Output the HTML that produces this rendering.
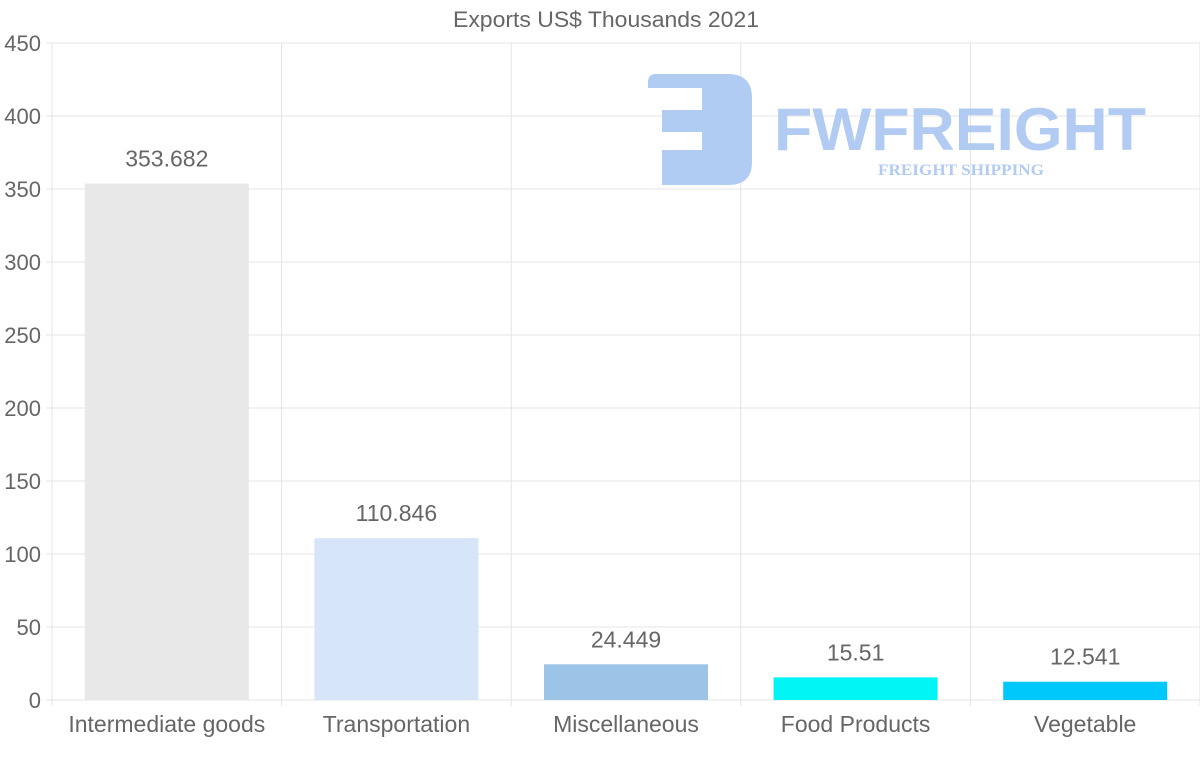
<!DOCTYPE html>
<html><head><meta charset="utf-8"><style>
body{margin:0;background:#fff;}
svg{display:block;font-family:"Liberation Sans",sans-serif;}
</style></head><body>
<svg id="chart" width="1200" height="763">
<text x="606" y="27" text-anchor="middle" font-size="22" fill="#666" textLength="306" lengthAdjust="spacingAndGlyphs">Exports US$ Thousands 2021</text>
<g id="grid"></g>
<g id="logo" fill="#a9c6f2" opacity="0.9">
<path d="M656 74 H728 Q752 74 752 98 V162 Q752 185 728 185 H662 V150 H702 V132 H662 V110 H702 V88 H648 V82 Q648 74 656 74 Z"/>
<text x="960" y="150" text-anchor="middle" font-size="60" font-weight="bold" textLength="372" lengthAdjust="spacingAndGlyphs">FWFREIGHT</text>
<text x="961" y="175" text-anchor="middle" font-family="Liberation Serif,serif" font-size="16" font-weight="bold" textLength="166" lengthAdjust="spacingAndGlyphs">FREIGHT SHIPPING</text>
</g>
<g id="bars"></g>
</svg>
<script>
const categories=["Intermediate goods","Transportation","Miscellaneous","Food Products","Vegetable"];
const values=[353.682,110.846,24.449,15.51,12.541];
const valueLabels=["353.682","110.846","24.449","15.51","12.541"];
const colors=["#e8e8e8","#d6e6f8","#9bc4e6","#00f5f5","#00c8fa"];
const yTicks=[0,50,100,150,200,250,300,350,400,450];
const L=52,R=1200,T=43,B=700,yMax=450;
const y=v=>B-(v/yMax)*(B-T);
const bw=(R-L)/categories.length;
const x=i=>L+bw*i;
const NS="http://www.w3.org/2000/svg";
const grid=document.getElementById('grid'),bars=document.getElementById('bars');
function mk(tag,attrs,parent,txt){const e=document.createElementNS(NS,tag);for(const k in attrs)e.setAttribute(k,attrs[k]);if(txt!==undefined)e.textContent=txt;parent.appendChild(e);return e;}
yTicks.forEach(t=>{
  const l=mk('line',{x1:L-6,x2:R,y1:y(t),y2:y(t),stroke:"#e4e4e4"},grid);
  
  
  const tx=mk('text',{x:41,y:y(t)+8,'text-anchor':'end','font-size':22,fill:'#666'},grid,t);
  
  
});
for(let i=0;i<=categories.length;i++){
  const l=mk('line',{x1:x(i),x2:x(i),y1:T,y2:B+6,stroke:"#e4e4e4"},grid);
  
  
}
categories.forEach((c,i)=>{
  const cx=x(i)+bw/2,w=164;
  const r=mk('rect',{x:cx-w/2,y:y(values[i]),width:w,height:B-y(values[i]),fill:colors[i]},bars);
  
  
  const v=mk('text',{x:cx,y:y(values[i])-17,'text-anchor':'middle','font-size':23,fill:'#666'},bars,valueLabels[i]);
  
  
  const t=mk('text',{x:cx,y:732,'text-anchor':'middle','font-size':23,fill:'#666'},bars,c);
  
  
});
</script>
</body></html>
